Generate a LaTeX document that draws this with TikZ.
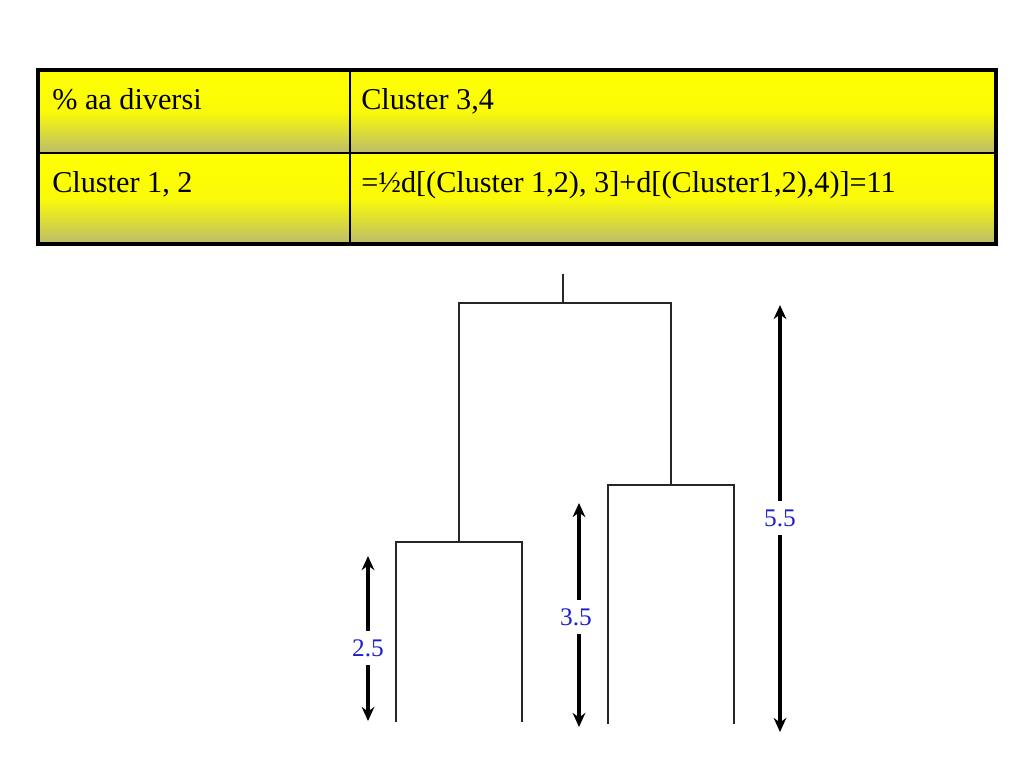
\documentclass[tikz,border=0pt]{standalone}
\usepackage{fontspec}
\setmainfont{Liberation Serif}
\usetikzlibrary{arrows.meta}
\definecolor{cellbottom}{RGB}{188,188,108}
\definecolor{dimblue}{RGB}{30,30,205}

\tikzset{
  cell/.style={top color=yellow, bottom color=cellbottom, middle color=yellow!92!cellbottom},
  celltext/.style={anchor=base west, inner sep=0pt, font=\fontsize{21.5}{26}\selectfont},
  dendro/.style={line width=0.8pt, black!85},
  dimline/.style={line width=2.8pt, -{Stealth[length=10pt,width=9pt]}},
  dimlab/.style={fill=white, text=dimblue, inner xsep=1pt, inner ysep=6pt, font=\fontsize{18}{20}\selectfont}
}

\begin{document}
\begin{tikzpicture}[x=0.025cm, y=-0.025cm]
            \useasboundingbox (0,0) rectangle (1023,767);

            % Table with the two clusters
            \shade[cell] (38,70) rectangle (350,153);
            \shade[cell] (350,70) rectangle (996,153);
            \shade[cell] (38,153) rectangle (350,244);
            \shade[cell] (350,153) rectangle (996,244);
            \draw[line width=0.9pt] (350,70) -- (350,244);  % column line
            \draw[line width=0.9pt] (38,153) -- (996,153);  % row line
            \draw[line width=2.2pt] (38,70) rectangle (996,244);  % frame

            \node[celltext] (head) at (52,110) {\% aa diversi};
            \node[celltext] (c34) at (361,110) {Cluster 3,4};
            \node[celltext] (c12) at (52,193) {Cluster 1, 2};
            \node[celltext] (dist) at (361,193) {=\textonehalf d[(Cluster 1,2), 3]+d[(Cluster1,2),4)]=11};

            % Dendrogram
            \draw[dendro] (396,722) -- (396,542) -- (522,542) -- (522,722);  % cluster 1,2
            \draw[dendro] (608,724) -- (608,485) -- (734,485) -- (734,724);  % cluster 3,4
            \draw[dendro] (459,542) -- (459,303) -- (671,303) -- (671,485);  % join
            \draw[dendro] (563,303) -- (563,274);  % root

            % Heights
            \node[dimlab] (h1) at (368,648) {2.5};
            \coordinate (h1top) at (368,556);
            \coordinate (h1bot) at (368,721);
            \draw[dimline] (h1) -- (h1top);
            \draw[dimline] (h1) -- (h1bot);

            \node[dimlab] (h2) at (576,617) {3.5};
            \coordinate (h2top) at (579,503);
            \coordinate (h2bot) at (579,727);
            \draw[dimline] (h2.north -| h2top) -- (h2top);
            \draw[dimline] (h2.south -| h2bot) -- (h2bot);

            \node[dimlab] (h3) at (780,518) {5.5};
            \coordinate (h3top) at (780,305);
            \coordinate (h3bot) at (780,732);
            \draw[dimline] (h3) -- (h3top);
            \draw[dimline] (h3) -- (h3bot);

\end{tikzpicture}
\end{document}
